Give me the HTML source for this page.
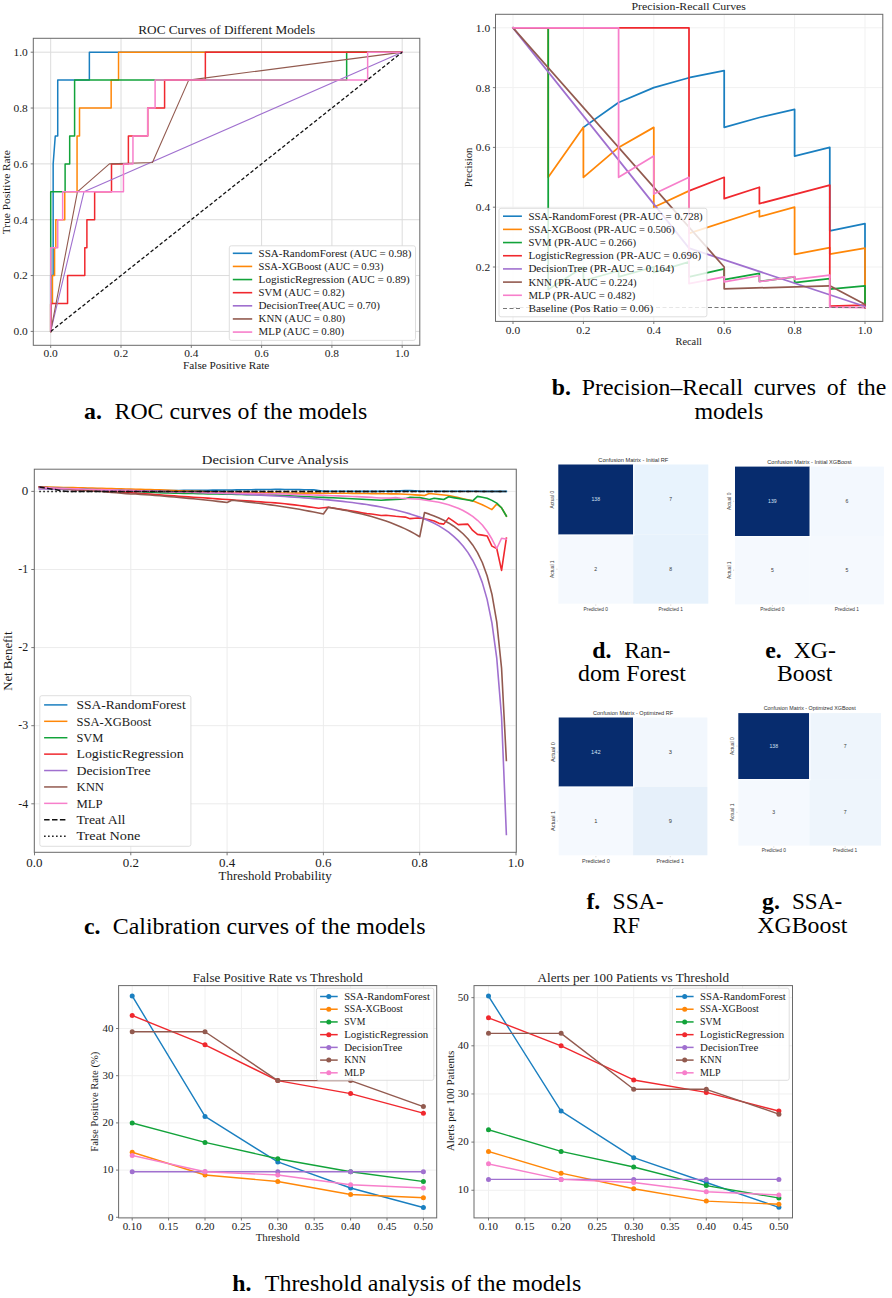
<!DOCTYPE html>
<html><head><meta charset="utf-8"><title>Model evaluation figure</title>
<style>
html,body{margin:0;padding:0;background:#fff;}
body{width:892px;height:1298px;overflow:hidden;}
svg{display:block;font-family:"Liberation Serif",serif;}
</style></head><body>
<svg width="892" height="1298" viewBox="0 0 892 1298" fill="#1a1a1a">
<line x1="50.7" y1="38.3" x2="50.7" y2="345.3" stroke="#dcdcdc" stroke-width="1"/>
<line x1="33.3" y1="331.4" x2="419.8" y2="331.4" stroke="#dcdcdc" stroke-width="1"/>
<line x1="121" y1="38.3" x2="121" y2="345.3" stroke="#dcdcdc" stroke-width="1"/>
<line x1="33.3" y1="275.56" x2="419.8" y2="275.56" stroke="#dcdcdc" stroke-width="1"/>
<line x1="191.3" y1="38.3" x2="191.3" y2="345.3" stroke="#dcdcdc" stroke-width="1"/>
<line x1="33.3" y1="219.72" x2="419.8" y2="219.72" stroke="#dcdcdc" stroke-width="1"/>
<line x1="261.6" y1="38.3" x2="261.6" y2="345.3" stroke="#dcdcdc" stroke-width="1"/>
<line x1="33.3" y1="163.88" x2="419.8" y2="163.88" stroke="#dcdcdc" stroke-width="1"/>
<line x1="331.9" y1="38.3" x2="331.9" y2="345.3" stroke="#dcdcdc" stroke-width="1"/>
<line x1="33.3" y1="108.04" x2="419.8" y2="108.04" stroke="#dcdcdc" stroke-width="1"/>
<line x1="402.2" y1="38.3" x2="402.2" y2="345.3" stroke="#dcdcdc" stroke-width="1"/>
<line x1="33.3" y1="52.2" x2="419.8" y2="52.2" stroke="#dcdcdc" stroke-width="1"/>
<polyline points="50.7,331.4 50.7,275.56 53.16,275.56 53.16,163.88 55.27,135.96 57.73,135.96 57.73,80.12 89.37,80.12 89.37,52.2 402.2,52.2" fill="none" stroke="#1a7fc0" stroke-width="1.5" stroke-linejoin="round" stroke-linecap="square"/>
<polyline points="50.7,331.4 50.7,303.48 52.46,303.48 52.46,275.56 54.57,275.56 54.57,247.64 55.8,247.64 55.8,219.72 64.76,219.72 64.76,191.8 77.06,191.8 77.06,135.96 79.52,135.96 79.52,108.04 111.16,108.04 111.16,80.12 118.54,80.12 118.54,52.2 402.2,52.2" fill="none" stroke="#ff8708" stroke-width="1.5" stroke-linejoin="round" stroke-linecap="square"/>
<polyline points="50.7,331.4 50.7,191.8 65.11,191.8 65.11,163.88 69.68,163.88 69.68,135.96 74.6,135.96 74.6,80.12 346.66,80.12 346.66,52.2 402.2,52.2" fill="none" stroke="#12a33a" stroke-width="1.5" stroke-linejoin="round" stroke-linecap="square"/>
<polyline points="50.7,331.4 50.7,303.48 67.57,303.48 67.57,275.56 84.8,275.56 84.8,247.64 86.9,247.64 86.9,219.72 94.64,219.72 94.64,191.8 111.51,191.8 111.51,163.88 128.38,163.88 128.38,135.96 147.71,135.96 147.71,108.04 164.59,108.04 164.59,80.12 205.36,80.12 205.36,52.2 402.2,52.2" fill="none" stroke="#f0282e" stroke-width="1.5" stroke-linejoin="round" stroke-linecap="square"/>
<polyline points="50.7,331.4 83.95,191.8 402.2,52.2" fill="none" stroke="#a070cf" stroke-width="1.1" stroke-linejoin="round" stroke-linecap="square"/>
<polyline points="50.7,331.4 77.41,191.8 109.4,163.88 152.46,162.48 188.7,80.12 402.2,52.2" fill="none" stroke="#925a4f" stroke-width="1.1" stroke-linejoin="round" stroke-linecap="square"/>
<polyline points="50.7,331.4 50.7,247.64 57.73,247.64 57.73,219.72 62.65,219.72 62.65,191.8 123.46,191.8 123.46,163.88 132.95,163.88 132.95,135.96 147.71,135.96 147.71,108.04 155.1,108.04 155.1,80.12 367.65,80.12 367.65,52.2 402.2,52.2" fill="none" stroke="#f77fcb" stroke-width="1.5" stroke-linejoin="round" stroke-linecap="square"/>
<line x1="50.7" y1="331.4" x2="402.2" y2="52.2" stroke="#111" stroke-width="1.3" stroke-dasharray="3.6,2.2"/>
<rect x="33.3" y="38.3" width="386.5" height="307" fill="none" stroke="#6a6a6a" stroke-width="1"/>
<line x1="50.7" y1="345.3" x2="50.7" y2="347.9" stroke="#6a6a6a" stroke-width="0.9"/>
<line x1="30.7" y1="331.4" x2="33.3" y2="331.4" stroke="#6a6a6a" stroke-width="0.9"/>
<text x="50.7" y="357.3" font-size="10.08" text-anchor="middle" textLength="14.31" lengthAdjust="spacingAndGlyphs">0.0</text>
<text x="27.8" y="335.3" font-size="10.08" text-anchor="end" textLength="14.31" lengthAdjust="spacingAndGlyphs">0.0</text>
<line x1="121" y1="345.3" x2="121" y2="347.9" stroke="#6a6a6a" stroke-width="0.9"/>
<line x1="30.7" y1="275.56" x2="33.3" y2="275.56" stroke="#6a6a6a" stroke-width="0.9"/>
<text x="121" y="357.3" font-size="10.08" text-anchor="middle" textLength="14.31" lengthAdjust="spacingAndGlyphs">0.2</text>
<text x="27.8" y="279.46" font-size="10.08" text-anchor="end" textLength="14.31" lengthAdjust="spacingAndGlyphs">0.2</text>
<line x1="191.3" y1="345.3" x2="191.3" y2="347.9" stroke="#6a6a6a" stroke-width="0.9"/>
<line x1="30.7" y1="219.72" x2="33.3" y2="219.72" stroke="#6a6a6a" stroke-width="0.9"/>
<text x="191.3" y="357.3" font-size="10.08" text-anchor="middle" textLength="14.31" lengthAdjust="spacingAndGlyphs">0.4</text>
<text x="27.8" y="223.62" font-size="10.08" text-anchor="end" textLength="14.31" lengthAdjust="spacingAndGlyphs">0.4</text>
<line x1="261.6" y1="345.3" x2="261.6" y2="347.9" stroke="#6a6a6a" stroke-width="0.9"/>
<line x1="30.7" y1="163.88" x2="33.3" y2="163.88" stroke="#6a6a6a" stroke-width="0.9"/>
<text x="261.6" y="357.3" font-size="10.08" text-anchor="middle" textLength="14.31" lengthAdjust="spacingAndGlyphs">0.6</text>
<text x="27.8" y="167.78" font-size="10.08" text-anchor="end" textLength="14.31" lengthAdjust="spacingAndGlyphs">0.6</text>
<line x1="331.9" y1="345.3" x2="331.9" y2="347.9" stroke="#6a6a6a" stroke-width="0.9"/>
<line x1="30.7" y1="108.04" x2="33.3" y2="108.04" stroke="#6a6a6a" stroke-width="0.9"/>
<text x="331.9" y="357.3" font-size="10.08" text-anchor="middle" textLength="14.31" lengthAdjust="spacingAndGlyphs">0.8</text>
<text x="27.8" y="111.94" font-size="10.08" text-anchor="end" textLength="14.31" lengthAdjust="spacingAndGlyphs">0.8</text>
<line x1="402.2" y1="345.3" x2="402.2" y2="347.9" stroke="#6a6a6a" stroke-width="0.9"/>
<line x1="30.7" y1="52.2" x2="33.3" y2="52.2" stroke="#6a6a6a" stroke-width="0.9"/>
<text x="402.2" y="357.3" font-size="10.08" text-anchor="middle" textLength="14.31" lengthAdjust="spacingAndGlyphs">1.0</text>
<text x="27.8" y="56.1" font-size="10.08" text-anchor="end" textLength="14.31" lengthAdjust="spacingAndGlyphs">1.0</text>
<text x="226.7" y="34.2" font-size="12.1" text-anchor="middle" textLength="176.79" lengthAdjust="spacingAndGlyphs">ROC Curves of Different Models</text>
<text x="226.2" y="368.5" font-size="10.08" text-anchor="middle" textLength="86.35" lengthAdjust="spacingAndGlyphs">False Positive Rate</text>
<text x="10" y="192.2" font-size="10.08" text-anchor="middle" textLength="83.96" lengthAdjust="spacingAndGlyphs" transform="rotate(-90 10 192.2)">True Positive Rate</text>
<rect x="229.3" y="245.8" width="186.2" height="94.6" fill="#fff" stroke="#d6d6d6" stroke-width="0.8" rx="2"/>
<line x1="232.8" y1="253.3" x2="252.2" y2="253.3" stroke="#1a7fc0" stroke-width="1.6"/>
<text x="258.6" y="256.7" font-size="10.08" textLength="152.77" lengthAdjust="spacingAndGlyphs">SSA-RandomForest (AUC = 0.98)</text>
<line x1="232.8" y1="266.43" x2="252.2" y2="266.43" stroke="#ff8708" stroke-width="1.6"/>
<text x="258.6" y="269.83" font-size="10.08" textLength="124.83" lengthAdjust="spacingAndGlyphs">SSA-XGBoost (AUC = 0.93)</text>
<line x1="232.8" y1="279.56" x2="252.2" y2="279.56" stroke="#12a33a" stroke-width="1.6"/>
<text x="258.6" y="282.96" font-size="10.08" textLength="151.17" lengthAdjust="spacingAndGlyphs">LogisticRegression (AUC = 0.89)</text>
<line x1="232.8" y1="292.69" x2="252.2" y2="292.69" stroke="#f0282e" stroke-width="1.6"/>
<text x="258.6" y="296.09" font-size="10.08" textLength="86.04" lengthAdjust="spacingAndGlyphs">SVM (AUC = 0.82)</text>
<line x1="232.8" y1="305.82" x2="252.2" y2="305.82" stroke="#a070cf" stroke-width="1.6"/>
<text x="258.6" y="309.22" font-size="10.08" textLength="121.43" lengthAdjust="spacingAndGlyphs">DecisionTree(AUC = 0.70)</text>
<line x1="232.8" y1="318.95" x2="252.2" y2="318.95" stroke="#925a4f" stroke-width="1.6"/>
<text x="258.6" y="322.35" font-size="10.08" textLength="86.63" lengthAdjust="spacingAndGlyphs">KNN (AUC = 0.80)</text>
<line x1="232.8" y1="332.08" x2="252.2" y2="332.08" stroke="#f77fcb" stroke-width="1.6"/>
<text x="258.6" y="335.48" font-size="10.08" textLength="85.41" lengthAdjust="spacingAndGlyphs">MLP (AUC = 0.80)</text>
<line x1="513" y1="14.3" x2="513" y2="321.4" stroke="#f1f1f1" stroke-width="1"/>
<line x1="583.4" y1="14.3" x2="583.4" y2="321.4" stroke="#f1f1f1" stroke-width="1"/>
<line x1="653.8" y1="14.3" x2="653.8" y2="321.4" stroke="#f1f1f1" stroke-width="1"/>
<line x1="724.2" y1="14.3" x2="724.2" y2="321.4" stroke="#f1f1f1" stroke-width="1"/>
<line x1="794.6" y1="14.3" x2="794.6" y2="321.4" stroke="#f1f1f1" stroke-width="1"/>
<line x1="865" y1="14.3" x2="865" y2="321.4" stroke="#f1f1f1" stroke-width="1"/>
<line x1="495.5" y1="267" x2="882.8" y2="267" stroke="#f1f1f1" stroke-width="1"/>
<line x1="495.5" y1="207.2" x2="882.8" y2="207.2" stroke="#f1f1f1" stroke-width="1"/>
<line x1="495.5" y1="147.4" x2="882.8" y2="147.4" stroke="#f1f1f1" stroke-width="1"/>
<line x1="495.5" y1="87.6" x2="882.8" y2="87.6" stroke="#f1f1f1" stroke-width="1"/>
<line x1="495.5" y1="27.8" x2="882.8" y2="27.8" stroke="#f1f1f1" stroke-width="1"/>
<polyline points="583.4,127.37 618.6,102.55 653.8,87.6 689,77.73 724.2,70.56 724.2,127.37 759.4,117.5 794.6,109.43 794.6,156.07 829.8,147.4 829.8,230.82 865,223.65 865,307.51" fill="none" stroke="#1a7fc0" stroke-width="1.75" stroke-linejoin="round" stroke-linecap="square"/>
<polyline points="513,27.8 548.2,27.8 548.2,177.3 583.4,127.37 583.4,177.3 618.6,147.4 653.8,127.37 653.8,207.2 689,190.9 689,233.36 759.4,210.49 759.4,216.77 794.6,207.2 794.6,254.32 829.8,247.65 829.8,254.08 865,248.1 865,307.51" fill="none" stroke="#ff8708" stroke-width="1.75" stroke-linejoin="round" stroke-linecap="square"/>
<polyline points="513,27.8 548.2,27.8 548.2,289.43 583.4,267 583.4,280.75 618.6,270.74 618.6,276.87 653.8,267 653.8,272.38 689,261.92 689,276.87 724.2,268.79 724.2,279.56 759.4,273.28 759.4,281.35 794.6,276.87 794.6,282.7 829.8,278.66 829.8,289.13 865,285.84 865,307.51" fill="none" stroke="#12a33a" stroke-width="1.75" stroke-linejoin="round" stroke-linecap="square"/>
<polyline points="513,27.8 689,27.8 689,190.9 724.2,177.3 724.2,198.65 759.4,187.26 759.4,203.67 829.8,185.16 829.8,306.17 865,305.12 865,307.51" fill="none" stroke="#f0282e" stroke-width="1.75" stroke-linejoin="round" stroke-linecap="square"/>
<polyline points="513,27.8 689,248.16 865,306.47" fill="none" stroke="#a070cf" stroke-width="1.75" stroke-linejoin="round" stroke-linecap="square"/>
<polyline points="513,27.8 724.2,267 724.2,288.83 829.8,285.84 865,304.38" fill="none" stroke="#925a4f" stroke-width="1.75" stroke-linejoin="round" stroke-linecap="square"/>
<polyline points="513,27.8 618.6,27.8 618.6,177.3 653.8,156.07 653.8,194.04 689,177.3 689,283.59 724.2,276.96 724.2,281.95 759.4,275.76 759.4,281.65 794.6,276.57 794.6,279.26 829.8,275.07 829.8,307.07 865,307.51" fill="none" stroke="#f77fcb" stroke-width="1.75" stroke-linejoin="round" stroke-linecap="square"/>
<line x1="513" y1="307.51" x2="865" y2="307.51" stroke="#777" stroke-width="1.1" stroke-dasharray="4,2.5"/>
<rect x="499" y="208.3" width="207.9" height="108.5" fill="#fff" stroke="#d6d6d6" stroke-width="0.8" rx="2" fill-opacity="0.82"/>
<line x1="503" y1="216.2" x2="521.9" y2="216.2" stroke="#1a7fc0" stroke-width="1.6"/>
<text x="528.4" y="219.6" font-size="10.08" textLength="174.37" lengthAdjust="spacingAndGlyphs">SSA-RandomForest (PR-AUC = 0.728)</text>
<line x1="503" y1="229.38" x2="521.9" y2="229.38" stroke="#ff8708" stroke-width="1.6"/>
<text x="528.4" y="232.78" font-size="10.08" textLength="146.43" lengthAdjust="spacingAndGlyphs">SSA-XGBoost (PR-AUC = 0.506)</text>
<line x1="503" y1="242.56" x2="521.9" y2="242.56" stroke="#12a33a" stroke-width="1.6"/>
<text x="528.4" y="245.96" font-size="10.08" textLength="107.64" lengthAdjust="spacingAndGlyphs">SVM (PR-AUC = 0.266)</text>
<line x1="503" y1="255.74" x2="521.9" y2="255.74" stroke="#f0282e" stroke-width="1.6"/>
<text x="528.4" y="259.14" font-size="10.08" textLength="172.77" lengthAdjust="spacingAndGlyphs">LogisticRegression (PR-AUC = 0.696)</text>
<line x1="503" y1="268.92" x2="521.9" y2="268.92" stroke="#a070cf" stroke-width="1.6"/>
<text x="528.4" y="272.32" font-size="10.08" textLength="145.89" lengthAdjust="spacingAndGlyphs">DecisionTree (PR-AUC = 0.164)</text>
<line x1="503" y1="282.1" x2="521.9" y2="282.1" stroke="#925a4f" stroke-width="1.6"/>
<text x="528.4" y="285.5" font-size="10.08" textLength="108.23" lengthAdjust="spacingAndGlyphs">KNN (PR-AUC = 0.224)</text>
<line x1="503" y1="295.28" x2="521.9" y2="295.28" stroke="#f77fcb" stroke-width="1.6"/>
<text x="528.4" y="298.68" font-size="10.08" textLength="107.01" lengthAdjust="spacingAndGlyphs">MLP (PR-AUC = 0.482)</text>
<line x1="503" y1="308.46" x2="521.9" y2="308.46" stroke="#777" stroke-width="1.1" stroke-dasharray="4,2.5"/>
<text x="528.4" y="311.86" font-size="10.08" textLength="124.84" lengthAdjust="spacingAndGlyphs">Baseline (Pos Ratio = 0.06)</text>
<rect x="495.5" y="14.3" width="387.3" height="307.1" fill="none" stroke="#6a6a6a" stroke-width="1"/>
<line x1="513" y1="321.4" x2="513" y2="324" stroke="#6a6a6a" stroke-width="0.9"/>
<text x="513" y="333.6" font-size="10.08" text-anchor="middle" textLength="14.31" lengthAdjust="spacingAndGlyphs">0.0</text>
<line x1="583.4" y1="321.4" x2="583.4" y2="324" stroke="#6a6a6a" stroke-width="0.9"/>
<text x="583.4" y="333.6" font-size="10.08" text-anchor="middle" textLength="14.31" lengthAdjust="spacingAndGlyphs">0.2</text>
<line x1="653.8" y1="321.4" x2="653.8" y2="324" stroke="#6a6a6a" stroke-width="0.9"/>
<text x="653.8" y="333.6" font-size="10.08" text-anchor="middle" textLength="14.31" lengthAdjust="spacingAndGlyphs">0.4</text>
<line x1="724.2" y1="321.4" x2="724.2" y2="324" stroke="#6a6a6a" stroke-width="0.9"/>
<text x="724.2" y="333.6" font-size="10.08" text-anchor="middle" textLength="14.31" lengthAdjust="spacingAndGlyphs">0.6</text>
<line x1="794.6" y1="321.4" x2="794.6" y2="324" stroke="#6a6a6a" stroke-width="0.9"/>
<text x="794.6" y="333.6" font-size="10.08" text-anchor="middle" textLength="14.31" lengthAdjust="spacingAndGlyphs">0.8</text>
<line x1="865" y1="321.4" x2="865" y2="324" stroke="#6a6a6a" stroke-width="0.9"/>
<text x="865" y="333.6" font-size="10.08" text-anchor="middle" textLength="14.31" lengthAdjust="spacingAndGlyphs">1.0</text>
<line x1="492.9" y1="267" x2="495.5" y2="267" stroke="#6a6a6a" stroke-width="0.9"/>
<text x="490.2" y="270.9" font-size="10.08" text-anchor="end" textLength="14.31" lengthAdjust="spacingAndGlyphs">0.2</text>
<line x1="492.9" y1="207.2" x2="495.5" y2="207.2" stroke="#6a6a6a" stroke-width="0.9"/>
<text x="490.2" y="211.1" font-size="10.08" text-anchor="end" textLength="14.31" lengthAdjust="spacingAndGlyphs">0.4</text>
<line x1="492.9" y1="147.4" x2="495.5" y2="147.4" stroke="#6a6a6a" stroke-width="0.9"/>
<text x="490.2" y="151.3" font-size="10.08" text-anchor="end" textLength="14.31" lengthAdjust="spacingAndGlyphs">0.6</text>
<line x1="492.9" y1="87.6" x2="495.5" y2="87.6" stroke="#6a6a6a" stroke-width="0.9"/>
<text x="490.2" y="91.5" font-size="10.08" text-anchor="end" textLength="14.31" lengthAdjust="spacingAndGlyphs">0.8</text>
<line x1="492.9" y1="27.8" x2="495.5" y2="27.8" stroke="#6a6a6a" stroke-width="0.9"/>
<text x="490.2" y="31.7" font-size="10.08" text-anchor="end" textLength="14.31" lengthAdjust="spacingAndGlyphs">1.0</text>
<text x="688.7" y="10" font-size="10.64" text-anchor="middle" textLength="114.53" lengthAdjust="spacingAndGlyphs">Precision-Recall Curves</text>
<text x="688.7" y="344.8" font-size="9.41" text-anchor="middle" textLength="26.38" lengthAdjust="spacingAndGlyphs">Recall</text>
<text x="471.5" y="167.5" font-size="9.41" text-anchor="middle" textLength="39.5" lengthAdjust="spacingAndGlyphs" transform="rotate(-90 471.5 167.5)">Precision</text>
<line x1="34.5" y1="469.2" x2="34.5" y2="852.3" stroke="#ececec" stroke-width="1"/>
<line x1="130.8" y1="469.2" x2="130.8" y2="852.3" stroke="#ececec" stroke-width="1"/>
<line x1="227.1" y1="469.2" x2="227.1" y2="852.3" stroke="#ececec" stroke-width="1"/>
<line x1="323.4" y1="469.2" x2="323.4" y2="852.3" stroke="#ececec" stroke-width="1"/>
<line x1="419.7" y1="469.2" x2="419.7" y2="852.3" stroke="#ececec" stroke-width="1"/>
<line x1="516" y1="469.2" x2="516" y2="852.3" stroke="#ececec" stroke-width="1"/>
<line x1="34.3" y1="491.4" x2="516.3" y2="491.4" stroke="#ececec" stroke-width="1"/>
<line x1="34.3" y1="569.5" x2="516.3" y2="569.5" stroke="#ececec" stroke-width="1"/>
<line x1="34.3" y1="647.6" x2="516.3" y2="647.6" stroke="#ececec" stroke-width="1"/>
<line x1="34.3" y1="725.7" x2="516.3" y2="725.7" stroke="#ececec" stroke-width="1"/>
<line x1="34.3" y1="803.8" x2="516.3" y2="803.8" stroke="#ececec" stroke-width="1"/>
<polyline points="39.31,487.1 44.13,487.28 48.95,487.45 53.76,487.63 58.58,487.8 63.39,487.97 68.21,488.15 73.02,488.32 77.84,488.49 82.65,488.67 87.47,488.81 92.28,488.96 97.09,489.11 101.91,489.26 106.72,489.41 111.54,489.56 116.36,489.71 121.17,489.85 125.98,490 130.8,490.15 135.62,490.23 140.43,490.31 145.25,490.38 150.06,490.46 154.88,490.54 159.69,490.62 164.5,490.58 169.32,490.54 174.13,490.5 178.95,490.46 183.76,490.42 188.58,490.37 193.4,490.32 198.21,490.28 203.02,490.23 207.84,490.18 212.66,490.13 217.47,490.09 222.28,490.04 227.1,489.99 231.91,489.93 236.73,489.87 241.54,489.81 246.36,489.74 251.18,489.68 255.99,489.63 260.8,489.58 265.62,489.53 270.44,489.47 275.25,489.42 280.06,489.37 284.88,489.43 289.7,489.49 294.51,489.55 299.33,489.6 304.14,489.68 308.95,489.76 313.77,489.84 318.58,490.5 323.4,491.17 328.21,491.19 333.03,491.21 337.85,491.24 342.66,491.26 347.48,491.28 352.29,491.31 357.11,491.33 361.92,491.35 366.73,491.38 371.55,491.4 376.37,491.34 381.18,491.28 386,491.21 390.81,491.15 395.62,491.09 400.44,490.88 405.25,490.67 410.07,490.46 414.88,490.81 419.7,491.17 424.52,491.18 429.33,491.19 434.14,491.2 438.96,491.22 443.77,491.23 448.59,491.24 453.4,491.26 458.22,491.27 463.04,491.28 467.85,491.3 472.67,491.31 477.48,491.32 482.3,491.33 487.11,491.35 491.92,491.36 496.74,491.37 501.56,491.39 506.37,491.4" fill="none" stroke="#1a7fc0" stroke-width="1.6" stroke-linejoin="round" stroke-linecap="square"/>
<polyline points="39.31,486.87 44.13,486.98 48.95,487.1 53.76,487.21 58.58,487.32 63.39,487.43 68.21,487.55 73.02,487.66 77.84,487.77 82.65,487.89 87.47,488 92.28,488.12 97.09,488.24 101.91,488.35 106.72,488.47 111.54,488.59 116.36,488.71 121.17,488.82 125.98,488.94 130.8,489.06 135.62,489.19 140.43,489.32 145.25,489.45 150.06,489.58 154.88,489.71 159.69,489.84 164.5,490.07 169.32,490.31 174.13,490.54 178.95,490.78 183.76,490.93 188.58,491.09 193.4,491.24 198.21,491.4 203.02,491.56 207.84,491.71 212.66,491.87 217.47,492.02 222.28,492.18 227.1,492.34 231.91,492.4 236.73,492.46 241.54,492.53 246.36,492.59 251.18,492.66 255.99,492.72 260.8,492.78 265.62,492.85 270.44,492.91 275.25,492.98 280.06,493.04 284.88,493.06 289.7,493.07 294.51,493.09 299.33,493.11 304.14,493.12 308.95,493.14 313.77,493.16 318.58,493.17 323.4,493.19 328.21,493.21 333.03,493.22 337.85,493.24 342.66,493.26 347.48,493.27 352.29,493.34 357.11,493.4 361.92,493.47 366.73,493.53 371.55,493.59 376.37,493.66 381.18,493.72 386,493.79 390.81,493.85 395.62,493.91 400.44,493.98 405.25,494.27 410.07,494.56 414.88,494.86 419.7,495.15 424.52,495.46 429.33,493.43 434.14,493.94 438.96,494.45 443.77,494.95 448.59,495.46 453.4,496.55 458.22,497.65 463.04,498.72 467.85,499.78 472.67,500.85 477.48,502.76 482.3,504.68 487.11,507.14 491.92,509.6 496.74,503.97 501.56,507.8 506.37,516.08" fill="none" stroke="#ff8708" stroke-width="1.6" stroke-linejoin="round" stroke-linecap="square"/>
<polyline points="39.31,487.5 44.13,487.67 48.95,487.84 53.76,488.02 58.58,488.19 63.39,488.36 68.21,488.54 73.02,488.71 77.84,488.88 82.65,489.06 87.47,489.25 92.28,489.45 97.09,489.64 101.91,489.84 106.72,490.03 111.54,490.23 116.36,490.42 121.17,490.62 125.98,490.81 130.8,491.01 135.62,491.31 140.43,491.61 145.25,491.91 150.06,492.21 154.88,492.51 159.69,492.81 164.5,492.91 169.32,493.01 174.13,493.12 178.95,493.22 183.76,493.33 188.58,493.43 193.4,493.53 198.21,493.64 203.02,493.74 207.84,493.84 212.66,493.93 217.47,494.02 222.28,494.12 227.1,494.21 231.91,494.31 236.73,494.4 241.54,494.49 246.36,494.59 251.18,494.68 255.99,494.77 260.8,494.86 265.62,494.95 270.44,495.04 275.25,495.14 280.06,495.23 284.88,495.49 289.7,495.75 294.51,496.01 299.33,496.27 304.14,496.53 308.95,496.79 313.77,496.99 318.58,497.2 323.4,497.4 328.21,497.61 333.03,497.81 337.85,498.02 342.66,498.22 347.48,498.43 352.29,498.69 357.11,498.94 361.92,499.2 366.73,499.46 371.55,499.71 376.37,499.97 381.18,500.23 386,499.91 390.81,499.6 395.62,499.37 400.44,499.13 405.25,498.66 410.07,497.26 414.88,497.45 419.7,497.65 424.52,498.59 429.33,499.52 434.14,498.19 438.96,498.86 443.77,499.52 448.59,496.79 453.4,497.6 458.22,498.41 463.04,499.23 467.85,500.04 472.67,500.85 477.48,496.4 482.3,497.3 487.11,498.19 491.92,500.38 496.74,503.11 501.56,507.8 506.37,516.08" fill="none" stroke="#12a33a" stroke-width="1.6" stroke-linejoin="round" stroke-linecap="square"/>
<polyline points="39.31,487.1 44.13,487.5 48.95,487.89 53.76,488.28 58.58,488.67 63.39,488.98 68.21,489.29 73.02,489.6 77.84,489.92 82.65,490.23 87.47,490.49 92.28,490.74 97.09,491 101.91,491.26 106.72,491.52 111.54,491.77 116.36,492.03 121.17,492.29 125.98,492.55 130.8,492.81 135.62,493.14 140.43,493.48 145.25,493.82 150.06,494.16 154.88,494.5 159.69,494.84 164.5,495.19 169.32,495.54 174.13,495.89 178.95,496.24 183.76,496.55 188.58,496.87 193.4,497.18 198.21,497.49 203.02,497.8 207.84,498.15 212.66,498.49 217.47,498.84 222.28,499.18 227.1,499.52 231.91,499.85 236.73,500.18 241.54,500.51 246.36,500.83 251.18,501.16 255.99,501.51 260.8,501.87 265.62,502.22 270.44,502.57 275.25,502.92 280.06,503.27 284.88,503.82 289.7,504.36 294.51,504.91 299.33,505.46 304.14,506.16 308.95,506.86 313.77,507.57 318.58,508.27 323.4,507.8 328.21,507.33 333.03,508.04 337.85,508.74 342.66,509.52 347.48,510.3 352.29,511.08 357.11,511.86 361.92,512.76 366.73,513.66 371.55,514.05 376.37,514.79 381.18,515.53 386,515.22 390.81,515.77 395.62,516.31 400.44,516.7 405.25,517.09 410.07,518.66 414.88,518.27 419.7,517.88 424.52,518.66 429.33,519.87 434.14,521.08 438.96,523.34 443.77,524.12 448.59,517.88 453.4,521.08 458.22,524.59 463.04,524.36 467.85,524.12 472.67,530.45 477.48,534.36 482.3,535.14 487.11,535.92 491.92,546.15 496.74,548.49 501.56,570.44 506.37,538.26" fill="none" stroke="#f0282e" stroke-width="1.6" stroke-linejoin="round" stroke-linecap="square"/>
<polyline points="39.31,488.95 44.13,489.02 48.95,489.1 53.76,489.17 58.58,489.25 63.39,489.33 68.21,489.41 73.02,489.49 77.84,489.58 82.65,489.66 87.47,489.75 92.28,489.84 97.09,489.93 101.91,490.03 106.72,490.13 111.54,490.22 116.36,490.33 121.17,490.43 125.98,490.54 130.8,490.64 135.62,490.76 140.43,490.87 145.25,490.99 150.06,491.11 154.88,491.23 159.69,491.36 164.5,491.49 169.32,491.62 174.13,491.76 178.95,491.9 183.76,492.05 188.58,492.2 193.4,492.36 198.21,492.51 203.02,492.68 207.84,492.85 212.66,493.02 217.47,493.2 222.28,493.39 227.1,493.58 231.91,493.78 236.73,493.99 241.54,494.2 246.36,494.42 251.18,494.65 255.99,494.89 260.8,495.14 265.62,495.39 270.44,495.66 275.25,495.93 280.06,496.22 284.88,496.52 289.7,496.84 294.51,497.16 299.33,497.5 304.14,497.86 308.95,498.23 313.77,498.62 318.58,499.03 323.4,499.46 328.21,499.91 333.03,500.39 337.85,500.89 342.66,501.42 347.48,501.98 352.29,502.57 357.11,503.2 361.92,503.87 366.73,504.58 371.55,505.34 376.37,506.15 381.18,507.02 386,507.95 390.81,508.96 395.62,510.04 400.44,511.22 405.25,512.5 410.07,513.89 414.88,515.42 419.7,517.1 424.52,518.95 429.33,521.02 434.14,523.32 438.96,525.92 443.77,528.85 448.59,532.21 453.4,536.09 458.22,540.61 463.04,545.96 467.85,552.37 472.67,560.21 477.48,570 482.3,582.6 487.11,599.4 491.92,622.91 496.74,658.18 501.56,716.97 506.37,834.54" fill="none" stroke="#a070cf" stroke-width="1.6" stroke-linejoin="round" stroke-linecap="square"/>
<polyline points="39.31,487.16 44.13,487.45 48.95,487.75 53.76,488.06 58.58,488.38 63.39,488.7 68.21,489.03 73.02,489.36 77.84,489.71 82.65,490.06 87.47,490.41 92.28,490.78 97.09,491.16 101.91,491.54 106.72,491.93 111.54,492.34 116.36,492.75 121.17,493.17 125.98,493.6 130.8,494.05 135.62,494 140.43,494.35 145.25,494.7 150.06,495.06 154.88,495.43 159.69,495.81 164.5,496.2 169.32,496.61 174.13,497.02 178.95,497.45 183.76,497.88 188.58,498.34 193.4,498.8 198.21,499.28 203.02,499.77 207.84,500.28 212.66,500.81 217.47,501.35 222.28,501.91 227.1,502.49 231.91,500.28 236.73,500.78 241.54,501.3 246.36,501.84 251.18,502.39 255.99,502.97 260.8,503.57 265.62,504.19 270.44,504.84 275.25,505.51 280.06,506.21 284.88,506.94 289.7,507.7 294.51,508.49 299.33,509.32 304.14,510.18 308.95,511.09 313.77,512.03 318.58,513.03 323.4,514.07 328.21,507.29 333.03,508.11 337.85,508.97 342.66,509.88 347.48,510.84 352.29,511.85 357.11,512.93 361.92,514.07 366.73,515.29 371.55,516.59 376.37,517.98 381.18,519.47 386,521.07 390.81,522.8 395.62,524.66 400.44,526.67 405.25,528.86 410.07,531.25 414.88,533.87 419.7,536.75 424.52,512.51 429.33,514.13 434.14,515.94 438.96,517.98 443.77,520.29 448.59,522.93 453.4,525.97 458.22,529.53 463.04,533.73 467.85,538.76 472.67,544.92 477.48,552.62 482.3,562.52 487.11,575.71 491.92,594.19 496.74,621.9 501.56,668.09 506.37,760.47" fill="none" stroke="#925a4f" stroke-width="1.6" stroke-linejoin="round" stroke-linecap="square"/>
<polyline points="39.31,487.5 44.13,487.67 48.95,487.84 53.76,488.02 58.58,488.19 63.39,488.36 68.21,488.54 73.02,488.71 77.84,488.88 82.65,489.06 87.47,489.2 92.28,489.34 97.09,489.48 101.91,489.62 106.72,489.76 111.54,489.9 116.36,490.04 121.17,490.18 125.98,490.32 130.8,490.46 135.62,490.62 140.43,490.78 145.25,490.93 150.06,491.09 154.88,491.24 159.69,491.4 164.5,491.56 169.32,491.71 174.13,491.87 178.95,492.02 183.76,492.12 188.58,492.21 193.4,492.31 198.21,492.4 203.02,492.49 207.84,492.59 212.66,492.68 217.47,492.77 222.28,492.87 227.1,492.96 231.91,493.05 236.73,493.13 241.54,493.22 246.36,493.3 251.18,493.39 255.99,493.47 260.8,493.56 265.62,493.64 270.44,493.73 275.25,493.81 280.06,493.9 284.88,494.06 289.7,494.21 294.51,494.37 299.33,494.52 304.14,494.68 308.95,494.84 313.77,494.99 318.58,495.15 323.4,495.3 328.21,495.5 333.03,495.7 337.85,495.89 342.66,496.09 347.48,496.28 352.29,496.48 357.11,496.67 361.92,496.87 366.73,497.14 371.55,497.41 376.37,497.69 381.18,497.96 386,498.04 390.81,498.12 395.62,497.49 400.44,498.19 405.25,498.45 410.07,498.7 414.88,498.96 419.7,499.21 424.52,499.95 429.33,500.69 434.14,501.44 438.96,502.18 443.77,503.43 448.59,504.68 453.4,506.43 458.22,508.19 463.04,510.53 467.85,513.27 472.67,516.39 477.48,520.3 482.3,524.98 487.11,531.23 491.92,539.04 496.74,548.49 501.56,538.26 506.37,539.04" fill="none" stroke="#f77fcb" stroke-width="1.6" stroke-linejoin="round" stroke-linecap="square"/>
<polyline points="39.31,487.1 44.13,487.85 48.95,488.62 53.76,489.41 58.58,490.21 63.39,491.02 68.21,491.4 73.02,491.4 77.84,491.4 82.65,491.4 87.47,491.4 92.28,491.4 97.09,491.4 101.91,491.4 106.72,491.4 111.54,491.4 116.36,491.4 121.17,491.4 125.98,491.4 130.8,491.4 135.62,491.4 140.43,491.4 145.25,491.4 150.06,491.4 154.88,491.4 159.69,491.4 164.5,491.4 169.32,491.4 174.13,491.4 178.95,491.4 183.76,491.4 188.58,491.4 193.4,491.4 198.21,491.4 203.02,491.4 207.84,491.4 212.66,491.4 217.47,491.4 222.28,491.4 227.1,491.4 231.91,491.4 236.73,491.4 241.54,491.4 246.36,491.4 251.18,491.4 255.99,491.4 260.8,491.4 265.62,491.4 270.44,491.4 275.25,491.4 280.06,491.4 284.88,491.4 289.7,491.4 294.51,491.4 299.33,491.4 304.14,491.4 308.95,491.4 313.77,491.4 318.58,491.4 323.4,491.4 328.21,491.4 333.03,491.4 337.85,491.4 342.66,491.4 347.48,491.4 352.29,491.4 357.11,491.4 361.92,491.4 366.73,491.4 371.55,491.4 376.37,491.4 381.18,491.4 386,491.4 390.81,491.4 395.62,491.4 400.44,491.4 405.25,491.4 410.07,491.4 414.88,491.4 419.7,491.4 424.52,491.4 429.33,491.4 434.14,491.4 438.96,491.4 443.77,491.4 448.59,491.4 453.4,491.4 458.22,491.4 463.04,491.4 467.85,491.4 472.67,491.4 477.48,491.4 482.3,491.4 487.11,491.4 491.92,491.4 496.74,491.4 501.56,491.4 506.37,491.4" fill="none" stroke="#111" stroke-width="1.5" stroke-linejoin="round" stroke-dasharray="5.5,2.4"/>
<line x1="39.31" y1="491.4" x2="506.37" y2="491.4" stroke="#111" stroke-width="1.5" stroke-dasharray="1.5,2.5"/>
<rect x="34.3" y="469.2" width="482" height="383.1" fill="none" stroke="#6a6a6a" stroke-width="1"/>
<line x1="34.5" y1="852.3" x2="34.5" y2="855.3" stroke="#6a6a6a" stroke-width="0.9"/>
<text x="34.5" y="866.9" font-size="11.42" text-anchor="middle" textLength="16.22" lengthAdjust="spacingAndGlyphs">0.0</text>
<line x1="130.8" y1="852.3" x2="130.8" y2="855.3" stroke="#6a6a6a" stroke-width="0.9"/>
<text x="130.8" y="866.9" font-size="11.42" text-anchor="middle" textLength="16.22" lengthAdjust="spacingAndGlyphs">0.2</text>
<line x1="227.1" y1="852.3" x2="227.1" y2="855.3" stroke="#6a6a6a" stroke-width="0.9"/>
<text x="227.1" y="866.9" font-size="11.42" text-anchor="middle" textLength="16.22" lengthAdjust="spacingAndGlyphs">0.4</text>
<line x1="323.4" y1="852.3" x2="323.4" y2="855.3" stroke="#6a6a6a" stroke-width="0.9"/>
<text x="323.4" y="866.9" font-size="11.42" text-anchor="middle" textLength="16.22" lengthAdjust="spacingAndGlyphs">0.6</text>
<line x1="419.7" y1="852.3" x2="419.7" y2="855.3" stroke="#6a6a6a" stroke-width="0.9"/>
<text x="419.7" y="866.9" font-size="11.42" text-anchor="middle" textLength="16.22" lengthAdjust="spacingAndGlyphs">0.8</text>
<line x1="516" y1="852.3" x2="516" y2="855.3" stroke="#6a6a6a" stroke-width="0.9"/>
<text x="516" y="866.9" font-size="11.42" text-anchor="middle" textLength="16.22" lengthAdjust="spacingAndGlyphs">1.0</text>
<line x1="31.3" y1="491.4" x2="34.3" y2="491.4" stroke="#6a6a6a" stroke-width="0.9"/>
<text x="28.3" y="495.1" font-size="11.42" text-anchor="end" textLength="6.49" lengthAdjust="spacingAndGlyphs">0</text>
<line x1="31.3" y1="569.5" x2="34.3" y2="569.5" stroke="#6a6a6a" stroke-width="0.9"/>
<text x="28.3" y="573.2" font-size="11.42" text-anchor="end" textLength="9.94" lengthAdjust="spacingAndGlyphs">-1</text>
<line x1="31.3" y1="647.6" x2="34.3" y2="647.6" stroke="#6a6a6a" stroke-width="0.9"/>
<text x="28.3" y="651.3" font-size="11.42" text-anchor="end" textLength="9.94" lengthAdjust="spacingAndGlyphs">-2</text>
<line x1="31.3" y1="725.7" x2="34.3" y2="725.7" stroke="#6a6a6a" stroke-width="0.9"/>
<text x="28.3" y="729.4" font-size="11.42" text-anchor="end" textLength="9.94" lengthAdjust="spacingAndGlyphs">-3</text>
<line x1="31.3" y1="803.8" x2="34.3" y2="803.8" stroke="#6a6a6a" stroke-width="0.9"/>
<text x="28.3" y="807.5" font-size="11.42" text-anchor="end" textLength="9.94" lengthAdjust="spacingAndGlyphs">-4</text>
<text x="275.2" y="464.2" font-size="13.44" text-anchor="middle" textLength="146.71" lengthAdjust="spacingAndGlyphs">Decision Curve Analysis</text>
<text x="275.1" y="880" font-size="11.54" text-anchor="middle" textLength="113.03" lengthAdjust="spacingAndGlyphs">Threshold Probability</text>
<text x="11.6" y="661.2" font-size="11.42" text-anchor="middle" textLength="59.34" lengthAdjust="spacingAndGlyphs" transform="rotate(-90 11.6 661.2)">Net Benefit</text>
<rect x="39.8" y="695.7" width="151.1" height="150.6" fill="#fff" stroke="#d6d6d6" stroke-width="0.8" rx="2"/>
<line x1="44.1" y1="704.9" x2="67.4" y2="704.9" stroke="#1a7fc0" stroke-width="1.5"/>
<text x="76.4" y="709.1" font-size="12.43" textLength="109.28" lengthAdjust="spacingAndGlyphs">SSA-RandomForest</text>
<line x1="44.1" y1="721.31" x2="67.4" y2="721.31" stroke="#ff8708" stroke-width="1.5"/>
<text x="76.4" y="725.51" font-size="12.43" textLength="74.83" lengthAdjust="spacingAndGlyphs">SSA-XGBoost</text>
<line x1="44.1" y1="737.72" x2="67.4" y2="737.72" stroke="#12a33a" stroke-width="1.5"/>
<text x="76.4" y="741.92" font-size="12.43" textLength="26.99" lengthAdjust="spacingAndGlyphs">SVM</text>
<line x1="44.1" y1="754.13" x2="67.4" y2="754.13" stroke="#f0282e" stroke-width="1.5"/>
<text x="76.4" y="758.33" font-size="12.43" textLength="107.32" lengthAdjust="spacingAndGlyphs">LogisticRegression</text>
<line x1="44.1" y1="770.54" x2="67.4" y2="770.54" stroke="#a070cf" stroke-width="1.5"/>
<text x="76.4" y="774.74" font-size="12.43" textLength="74.16" lengthAdjust="spacingAndGlyphs">DecisionTree</text>
<line x1="44.1" y1="786.95" x2="67.4" y2="786.95" stroke="#925a4f" stroke-width="1.5"/>
<text x="76.4" y="791.15" font-size="12.43" textLength="27.72" lengthAdjust="spacingAndGlyphs">KNN</text>
<line x1="44.1" y1="803.36" x2="67.4" y2="803.36" stroke="#f77fcb" stroke-width="1.5"/>
<text x="76.4" y="807.56" font-size="12.43" textLength="26.21" lengthAdjust="spacingAndGlyphs">MLP</text>
<line x1="44.1" y1="819.77" x2="67.4" y2="819.77" stroke="#111" stroke-width="1.5" stroke-dasharray="5.5,2.4"/>
<text x="76.4" y="823.97" font-size="12.43" textLength="49" lengthAdjust="spacingAndGlyphs">Treat All</text>
<line x1="44.1" y1="836.18" x2="67.4" y2="836.18" stroke="#111" stroke-width="1.5" stroke-dasharray="1.5,2.5"/>
<text x="76.4" y="840.38" font-size="12.43" textLength="64" lengthAdjust="spacingAndGlyphs">Treat None</text>
<rect x="558.3" y="464.5" width="74.9" height="70.2" fill="#072c6e"/>
<rect x="633.2" y="464.5" width="75.1" height="70.2" fill="#e8f3fd"/>
<rect x="558.3" y="534.7" width="74.9" height="69" fill="#f5f9fe"/>
<rect x="633.2" y="534.7" width="75.1" height="69" fill="#e7f2fc"/>
<line x1="633.8" y1="464.5" x2="633.8" y2="535.9" stroke="#fbfdff" stroke-width="1.2"/>
<line x1="558.3" y1="535.3" x2="634.4" y2="535.3" stroke="#fbfdff" stroke-width="1.2"/>
<text x="595.75" y="501.24" font-size="4.77" font-family="'Liberation Sans', sans-serif" text-anchor="middle" textLength="8.59" lengthAdjust="spacingAndGlyphs" fill="#d4e4f4">138</text>
<text x="670.75" y="501.24" font-size="4.77" font-family="'Liberation Sans', sans-serif" text-anchor="middle" textLength="2.86" lengthAdjust="spacingAndGlyphs" fill="#3a3a3a">7</text>
<text x="595.75" y="570.84" font-size="4.77" font-family="'Liberation Sans', sans-serif" text-anchor="middle" textLength="2.86" lengthAdjust="spacingAndGlyphs" fill="#3a3a3a">2</text>
<text x="670.75" y="570.84" font-size="4.77" font-family="'Liberation Sans', sans-serif" text-anchor="middle" textLength="2.86" lengthAdjust="spacingAndGlyphs" fill="#3a3a3a">8</text>
<text x="633.3" y="461.9" font-size="5" font-family="'Liberation Sans', sans-serif" text-anchor="middle" textLength="70" lengthAdjust="spacingAndGlyphs" fill="#2e2e2e">Confusion Matrix - Initial RF</text>
<text x="554.17" y="499.6" font-size="4.56" font-family="'Liberation Sans', sans-serif" text-anchor="middle" textLength="17.57" lengthAdjust="spacingAndGlyphs" fill="#3a3a3a" transform="rotate(-90 554.17 499.6)">Actual 0</text>
<line x1="556.3" y1="499.6" x2="557.5" y2="499.6" stroke="#aaa" stroke-width="0.5"/>
<text x="554.17" y="569.2" font-size="4.56" font-family="'Liberation Sans', sans-serif" text-anchor="middle" textLength="17.57" lengthAdjust="spacingAndGlyphs" fill="#3a3a3a" transform="rotate(-90 554.17 569.2)">Actual 1</text>
<line x1="556.3" y1="569.2" x2="557.5" y2="569.2" stroke="#aaa" stroke-width="0.5"/>
<text x="595.75" y="610.97" font-size="4.56" font-family="'Liberation Sans', sans-serif" text-anchor="middle" textLength="24.29" lengthAdjust="spacingAndGlyphs" fill="#3a3a3a">Predicted 0</text>
<line x1="595.75" y1="604.5" x2="595.75" y2="605.7" stroke="#aaa" stroke-width="0.5"/>
<text x="670.75" y="610.97" font-size="4.56" font-family="'Liberation Sans', sans-serif" text-anchor="middle" textLength="24.29" lengthAdjust="spacingAndGlyphs" fill="#3a3a3a">Predicted 1</text>
<line x1="670.75" y1="604.5" x2="670.75" y2="605.7" stroke="#aaa" stroke-width="0.5"/>
<rect x="735" y="466.6" width="74.8" height="69.4" fill="#072c6e"/>
<rect x="809.8" y="466.6" width="74.1" height="69.4" fill="#f3f8fe"/>
<rect x="735" y="536" width="74.8" height="68.4" fill="#f5f9fe"/>
<rect x="809.8" y="536" width="74.1" height="68.4" fill="#f5f9fe"/>
<line x1="810.4" y1="466.6" x2="810.4" y2="537.2" stroke="#fbfdff" stroke-width="1.2"/>
<line x1="735" y1="536.6" x2="811" y2="536.6" stroke="#fbfdff" stroke-width="1.2"/>
<text x="772.4" y="502.94" font-size="4.77" font-family="'Liberation Sans', sans-serif" text-anchor="middle" textLength="8.59" lengthAdjust="spacingAndGlyphs" fill="#d4e4f4">139</text>
<text x="846.85" y="502.94" font-size="4.77" font-family="'Liberation Sans', sans-serif" text-anchor="middle" textLength="2.86" lengthAdjust="spacingAndGlyphs" fill="#3a3a3a">6</text>
<text x="772.4" y="571.84" font-size="4.77" font-family="'Liberation Sans', sans-serif" text-anchor="middle" textLength="2.86" lengthAdjust="spacingAndGlyphs" fill="#3a3a3a">5</text>
<text x="846.85" y="571.84" font-size="4.77" font-family="'Liberation Sans', sans-serif" text-anchor="middle" textLength="2.86" lengthAdjust="spacingAndGlyphs" fill="#3a3a3a">5</text>
<text x="809.45" y="463.9" font-size="5" font-family="'Liberation Sans', sans-serif" text-anchor="middle" textLength="84.3" lengthAdjust="spacingAndGlyphs" fill="#2e2e2e">Confusion Matrix - Initial XGBoost</text>
<text x="731.17" y="501.3" font-size="4.56" font-family="'Liberation Sans', sans-serif" text-anchor="middle" textLength="17.57" lengthAdjust="spacingAndGlyphs" fill="#3a3a3a" transform="rotate(-90 731.17 501.3)">Actual 0</text>
<line x1="733" y1="501.3" x2="734.2" y2="501.3" stroke="#aaa" stroke-width="0.5"/>
<text x="731.17" y="570.2" font-size="4.56" font-family="'Liberation Sans', sans-serif" text-anchor="middle" textLength="17.57" lengthAdjust="spacingAndGlyphs" fill="#3a3a3a" transform="rotate(-90 731.17 570.2)">Actual 1</text>
<line x1="733" y1="570.2" x2="734.2" y2="570.2" stroke="#aaa" stroke-width="0.5"/>
<text x="772.4" y="611.27" font-size="4.56" font-family="'Liberation Sans', sans-serif" text-anchor="middle" textLength="24.29" lengthAdjust="spacingAndGlyphs" fill="#3a3a3a">Predicted 0</text>
<line x1="772.4" y1="605.2" x2="772.4" y2="606.4" stroke="#aaa" stroke-width="0.5"/>
<text x="846.85" y="611.27" font-size="4.56" font-family="'Liberation Sans', sans-serif" text-anchor="middle" textLength="24.29" lengthAdjust="spacingAndGlyphs" fill="#3a3a3a">Predicted 1</text>
<line x1="846.85" y1="605.2" x2="846.85" y2="606.4" stroke="#aaa" stroke-width="0.5"/>
<rect x="558.7" y="717.5" width="74.4" height="69.2" fill="#072c6e"/>
<rect x="633.1" y="717.5" width="74.3" height="69.2" fill="#f2f7fd"/>
<rect x="558.7" y="786.7" width="74.4" height="68.6" fill="#f5f9fe"/>
<rect x="633.1" y="786.7" width="74.3" height="68.6" fill="#e6f0fa"/>
<line x1="633.7" y1="717.5" x2="633.7" y2="787.9" stroke="#fbfdff" stroke-width="1.2"/>
<line x1="558.7" y1="787.3" x2="634.3" y2="787.3" stroke="#fbfdff" stroke-width="1.2"/>
<text x="595.9" y="753.92" font-size="5.3" font-family="'Liberation Sans', sans-serif" text-anchor="middle" textLength="9.54" lengthAdjust="spacingAndGlyphs" fill="#d4e4f4">142</text>
<text x="670.25" y="753.92" font-size="5.3" font-family="'Liberation Sans', sans-serif" text-anchor="middle" textLength="3.18" lengthAdjust="spacingAndGlyphs" fill="#3a3a3a">3</text>
<text x="595.9" y="822.82" font-size="5.3" font-family="'Liberation Sans', sans-serif" text-anchor="middle" textLength="3.18" lengthAdjust="spacingAndGlyphs" fill="#3a3a3a">1</text>
<text x="670.25" y="822.82" font-size="5.3" font-family="'Liberation Sans', sans-serif" text-anchor="middle" textLength="3.18" lengthAdjust="spacingAndGlyphs" fill="#3a3a3a">9</text>
<text x="633.05" y="715.3" font-size="5" font-family="'Liberation Sans', sans-serif" text-anchor="middle" textLength="80.1" lengthAdjust="spacingAndGlyphs" fill="#2e2e2e">Confusion Matrix - Optimized RF</text>
<text x="554.79" y="752.1" font-size="5.19" font-family="'Liberation Sans', sans-serif" text-anchor="middle" textLength="20.03" lengthAdjust="spacingAndGlyphs" fill="#3a3a3a" transform="rotate(-90 554.79 752.1)">Actual 0</text>
<line x1="556.7" y1="752.1" x2="557.9" y2="752.1" stroke="#aaa" stroke-width="0.5"/>
<text x="554.79" y="821" font-size="5.19" font-family="'Liberation Sans', sans-serif" text-anchor="middle" textLength="20.03" lengthAdjust="spacingAndGlyphs" fill="#3a3a3a" transform="rotate(-90 554.79 821)">Actual 1</text>
<line x1="556.7" y1="821" x2="557.9" y2="821" stroke="#aaa" stroke-width="0.5"/>
<text x="595.9" y="862.89" font-size="5.19" font-family="'Liberation Sans', sans-serif" text-anchor="middle" textLength="27.68" lengthAdjust="spacingAndGlyphs" fill="#3a3a3a">Predicted 0</text>
<line x1="595.9" y1="856.1" x2="595.9" y2="857.3" stroke="#aaa" stroke-width="0.5"/>
<text x="670.25" y="862.89" font-size="5.19" font-family="'Liberation Sans', sans-serif" text-anchor="middle" textLength="27.68" lengthAdjust="spacingAndGlyphs" fill="#3a3a3a">Predicted 1</text>
<line x1="670.25" y1="856.1" x2="670.25" y2="857.3" stroke="#aaa" stroke-width="0.5"/>
<rect x="738.3" y="713.1" width="71" height="66" fill="#072c6e"/>
<rect x="809.3" y="713.1" width="71.7" height="66" fill="#eef5fc"/>
<rect x="738.3" y="779.1" width="71" height="66.5" fill="#f5f9fe"/>
<rect x="809.3" y="779.1" width="71.7" height="66.5" fill="#eef5fc"/>
<line x1="809.9" y1="713.1" x2="809.9" y2="780.3" stroke="#fbfdff" stroke-width="1.2"/>
<line x1="738.3" y1="779.7" x2="810.5" y2="779.7" stroke="#fbfdff" stroke-width="1.2"/>
<text x="773.8" y="747.74" font-size="4.77" font-family="'Liberation Sans', sans-serif" text-anchor="middle" textLength="8.59" lengthAdjust="spacingAndGlyphs" fill="#d4e4f4">138</text>
<text x="845.15" y="747.74" font-size="4.77" font-family="'Liberation Sans', sans-serif" text-anchor="middle" textLength="2.86" lengthAdjust="spacingAndGlyphs" fill="#3a3a3a">7</text>
<text x="773.8" y="813.99" font-size="4.77" font-family="'Liberation Sans', sans-serif" text-anchor="middle" textLength="2.86" lengthAdjust="spacingAndGlyphs" fill="#3a3a3a">3</text>
<text x="845.15" y="813.99" font-size="4.77" font-family="'Liberation Sans', sans-serif" text-anchor="middle" textLength="2.86" lengthAdjust="spacingAndGlyphs" fill="#3a3a3a">7</text>
<text x="809.65" y="710.3" font-size="5" font-family="'Liberation Sans', sans-serif" text-anchor="middle" textLength="92" lengthAdjust="spacingAndGlyphs" fill="#2e2e2e">Confusion Matrix - Optimized XGBoost</text>
<text x="734.07" y="746.1" font-size="4.56" font-family="'Liberation Sans', sans-serif" text-anchor="middle" textLength="17.57" lengthAdjust="spacingAndGlyphs" fill="#3a3a3a" transform="rotate(-90 734.07 746.1)">Actual 0</text>
<line x1="736.3" y1="746.1" x2="737.5" y2="746.1" stroke="#aaa" stroke-width="0.5"/>
<text x="734.07" y="812.35" font-size="4.56" font-family="'Liberation Sans', sans-serif" text-anchor="middle" textLength="17.57" lengthAdjust="spacingAndGlyphs" fill="#3a3a3a" transform="rotate(-90 734.07 812.35)">Actual 1</text>
<line x1="736.3" y1="812.35" x2="737.5" y2="812.35" stroke="#aaa" stroke-width="0.5"/>
<text x="773.8" y="851.97" font-size="4.56" font-family="'Liberation Sans', sans-serif" text-anchor="middle" textLength="24.29" lengthAdjust="spacingAndGlyphs" fill="#3a3a3a">Predicted 0</text>
<line x1="773.8" y1="846.4" x2="773.8" y2="847.6" stroke="#aaa" stroke-width="0.5"/>
<text x="845.15" y="851.97" font-size="4.56" font-family="'Liberation Sans', sans-serif" text-anchor="middle" textLength="24.29" lengthAdjust="spacingAndGlyphs" fill="#3a3a3a">Predicted 1</text>
<line x1="845.15" y1="846.4" x2="845.15" y2="847.6" stroke="#aaa" stroke-width="0.5"/>
<line x1="132.2" y1="985.6" x2="132.2" y2="1217.9" stroke="#f0f0f0" stroke-width="1"/>
<line x1="168.6" y1="985.6" x2="168.6" y2="1217.9" stroke="#f0f0f0" stroke-width="1"/>
<line x1="205" y1="985.6" x2="205" y2="1217.9" stroke="#f0f0f0" stroke-width="1"/>
<line x1="241.4" y1="985.6" x2="241.4" y2="1217.9" stroke="#f0f0f0" stroke-width="1"/>
<line x1="277.8" y1="985.6" x2="277.8" y2="1217.9" stroke="#f0f0f0" stroke-width="1"/>
<line x1="314.2" y1="985.6" x2="314.2" y2="1217.9" stroke="#f0f0f0" stroke-width="1"/>
<line x1="350.6" y1="985.6" x2="350.6" y2="1217.9" stroke="#f0f0f0" stroke-width="1"/>
<line x1="387" y1="985.6" x2="387" y2="1217.9" stroke="#f0f0f0" stroke-width="1"/>
<line x1="423.4" y1="985.6" x2="423.4" y2="1217.9" stroke="#f0f0f0" stroke-width="1"/>
<line x1="118.6" y1="1217.3" x2="436.7" y2="1217.3" stroke="#f0f0f0" stroke-width="1"/>
<line x1="118.6" y1="1170.1" x2="436.7" y2="1170.1" stroke="#f0f0f0" stroke-width="1"/>
<line x1="118.6" y1="1122.9" x2="436.7" y2="1122.9" stroke="#f0f0f0" stroke-width="1"/>
<line x1="118.6" y1="1075.7" x2="436.7" y2="1075.7" stroke="#f0f0f0" stroke-width="1"/>
<line x1="118.6" y1="1028.5" x2="436.7" y2="1028.5" stroke="#f0f0f0" stroke-width="1"/>
<polyline points="132.2,995.95 205,1116.39 277.8,1161.96 350.6,1188 423.4,1207.53" fill="none" stroke="#1a7fc0" stroke-width="1.4" stroke-linejoin="round" stroke-linecap="square"/>
<circle cx="132.2" cy="995.95" r="2.5" fill="#1a7fc0"/>
<circle cx="205" cy="1116.39" r="2.5" fill="#1a7fc0"/>
<circle cx="277.8" cy="1161.96" r="2.5" fill="#1a7fc0"/>
<circle cx="350.6" cy="1188" r="2.5" fill="#1a7fc0"/>
<circle cx="423.4" cy="1207.53" r="2.5" fill="#1a7fc0"/>
<polyline points="132.2,1152.2 205,1174.98 277.8,1181.49 350.6,1194.51 423.4,1197.77" fill="none" stroke="#ff8708" stroke-width="1.4" stroke-linejoin="round" stroke-linecap="square"/>
<circle cx="132.2" cy="1152.2" r="2.5" fill="#ff8708"/>
<circle cx="205" cy="1174.98" r="2.5" fill="#ff8708"/>
<circle cx="277.8" cy="1181.49" r="2.5" fill="#ff8708"/>
<circle cx="350.6" cy="1194.51" r="2.5" fill="#ff8708"/>
<circle cx="423.4" cy="1197.77" r="2.5" fill="#ff8708"/>
<polyline points="132.2,1122.9 205,1142.43 277.8,1158.71 350.6,1171.73 423.4,1181.49" fill="none" stroke="#12a33a" stroke-width="1.4" stroke-linejoin="round" stroke-linecap="square"/>
<circle cx="132.2" cy="1122.9" r="2.5" fill="#12a33a"/>
<circle cx="205" cy="1142.43" r="2.5" fill="#12a33a"/>
<circle cx="277.8" cy="1158.71" r="2.5" fill="#12a33a"/>
<circle cx="350.6" cy="1171.73" r="2.5" fill="#12a33a"/>
<circle cx="423.4" cy="1181.49" r="2.5" fill="#12a33a"/>
<polyline points="132.2,1015.48 205,1044.78 277.8,1080.58 350.6,1093.6 423.4,1113.13" fill="none" stroke="#f0282e" stroke-width="1.4" stroke-linejoin="round" stroke-linecap="square"/>
<circle cx="132.2" cy="1015.48" r="2.5" fill="#f0282e"/>
<circle cx="205" cy="1044.78" r="2.5" fill="#f0282e"/>
<circle cx="277.8" cy="1080.58" r="2.5" fill="#f0282e"/>
<circle cx="350.6" cy="1093.6" r="2.5" fill="#f0282e"/>
<circle cx="423.4" cy="1113.13" r="2.5" fill="#f0282e"/>
<polyline points="132.2,1171.73 205,1171.73 277.8,1171.73 350.6,1171.73 423.4,1171.73" fill="none" stroke="#a070cf" stroke-width="1.4" stroke-linejoin="round" stroke-linecap="square"/>
<circle cx="132.2" cy="1171.73" r="2.5" fill="#a070cf"/>
<circle cx="205" cy="1171.73" r="2.5" fill="#a070cf"/>
<circle cx="277.8" cy="1171.73" r="2.5" fill="#a070cf"/>
<circle cx="350.6" cy="1171.73" r="2.5" fill="#a070cf"/>
<circle cx="423.4" cy="1171.73" r="2.5" fill="#a070cf"/>
<polyline points="132.2,1031.76 205,1031.76 277.8,1080.58 350.6,1080.58 423.4,1106.62" fill="none" stroke="#925a4f" stroke-width="1.4" stroke-linejoin="round" stroke-linecap="square"/>
<circle cx="132.2" cy="1031.76" r="2.5" fill="#925a4f"/>
<circle cx="205" cy="1031.76" r="2.5" fill="#925a4f"/>
<circle cx="277.8" cy="1080.58" r="2.5" fill="#925a4f"/>
<circle cx="350.6" cy="1080.58" r="2.5" fill="#925a4f"/>
<circle cx="423.4" cy="1106.62" r="2.5" fill="#925a4f"/>
<polyline points="132.2,1155.45 205,1171.73 277.8,1174.98 350.6,1184.75 423.4,1188" fill="none" stroke="#f77fcb" stroke-width="1.4" stroke-linejoin="round" stroke-linecap="square"/>
<circle cx="132.2" cy="1155.45" r="2.5" fill="#f77fcb"/>
<circle cx="205" cy="1171.73" r="2.5" fill="#f77fcb"/>
<circle cx="277.8" cy="1174.98" r="2.5" fill="#f77fcb"/>
<circle cx="350.6" cy="1184.75" r="2.5" fill="#f77fcb"/>
<circle cx="423.4" cy="1188" r="2.5" fill="#f77fcb"/>
<rect x="118.6" y="985.6" width="318.1" height="232.3" fill="none" stroke="#6a6a6a" stroke-width="1"/>
<line x1="132.2" y1="1217.9" x2="132.2" y2="1220.5" stroke="#6a6a6a" stroke-width="0.9"/>
<text x="132.2" y="1229.6" font-size="9.63" text-anchor="middle" textLength="19.15" lengthAdjust="spacingAndGlyphs">0.10</text>
<line x1="168.6" y1="1217.9" x2="168.6" y2="1220.5" stroke="#6a6a6a" stroke-width="0.9"/>
<text x="168.6" y="1229.6" font-size="9.63" text-anchor="middle" textLength="19.15" lengthAdjust="spacingAndGlyphs">0.15</text>
<line x1="205" y1="1217.9" x2="205" y2="1220.5" stroke="#6a6a6a" stroke-width="0.9"/>
<text x="205" y="1229.6" font-size="9.63" text-anchor="middle" textLength="19.15" lengthAdjust="spacingAndGlyphs">0.20</text>
<line x1="241.4" y1="1217.9" x2="241.4" y2="1220.5" stroke="#6a6a6a" stroke-width="0.9"/>
<text x="241.4" y="1229.6" font-size="9.63" text-anchor="middle" textLength="19.15" lengthAdjust="spacingAndGlyphs">0.25</text>
<line x1="277.8" y1="1217.9" x2="277.8" y2="1220.5" stroke="#6a6a6a" stroke-width="0.9"/>
<text x="277.8" y="1229.6" font-size="9.63" text-anchor="middle" textLength="19.15" lengthAdjust="spacingAndGlyphs">0.30</text>
<line x1="314.2" y1="1217.9" x2="314.2" y2="1220.5" stroke="#6a6a6a" stroke-width="0.9"/>
<text x="314.2" y="1229.6" font-size="9.63" text-anchor="middle" textLength="19.15" lengthAdjust="spacingAndGlyphs">0.35</text>
<line x1="350.6" y1="1217.9" x2="350.6" y2="1220.5" stroke="#6a6a6a" stroke-width="0.9"/>
<text x="350.6" y="1229.6" font-size="9.63" text-anchor="middle" textLength="19.15" lengthAdjust="spacingAndGlyphs">0.40</text>
<line x1="387" y1="1217.9" x2="387" y2="1220.5" stroke="#6a6a6a" stroke-width="0.9"/>
<text x="387" y="1229.6" font-size="9.63" text-anchor="middle" textLength="19.15" lengthAdjust="spacingAndGlyphs">0.45</text>
<line x1="423.4" y1="1217.9" x2="423.4" y2="1220.5" stroke="#6a6a6a" stroke-width="0.9"/>
<text x="423.4" y="1229.6" font-size="9.63" text-anchor="middle" textLength="19.15" lengthAdjust="spacingAndGlyphs">0.50</text>
<line x1="116" y1="1217.3" x2="118.6" y2="1217.3" stroke="#6a6a6a" stroke-width="0.9"/>
<text x="113.4" y="1220.5" font-size="9.63" text-anchor="end" textLength="5.47" lengthAdjust="spacingAndGlyphs">0</text>
<line x1="116" y1="1170.1" x2="118.6" y2="1170.1" stroke="#6a6a6a" stroke-width="0.9"/>
<text x="113.4" y="1173.3" font-size="9.63" text-anchor="end" textLength="10.94" lengthAdjust="spacingAndGlyphs">10</text>
<line x1="116" y1="1122.9" x2="118.6" y2="1122.9" stroke="#6a6a6a" stroke-width="0.9"/>
<text x="113.4" y="1126.1" font-size="9.63" text-anchor="end" textLength="10.94" lengthAdjust="spacingAndGlyphs">20</text>
<line x1="116" y1="1075.7" x2="118.6" y2="1075.7" stroke="#6a6a6a" stroke-width="0.9"/>
<text x="113.4" y="1078.9" font-size="9.63" text-anchor="end" textLength="10.94" lengthAdjust="spacingAndGlyphs">30</text>
<line x1="116" y1="1028.5" x2="118.6" y2="1028.5" stroke="#6a6a6a" stroke-width="0.9"/>
<text x="113.4" y="1031.7" font-size="9.63" text-anchor="end" textLength="10.94" lengthAdjust="spacingAndGlyphs">40</text>
<text x="277.8" y="981.8" font-size="11.59" text-anchor="middle" textLength="169.83" lengthAdjust="spacingAndGlyphs">False Positive Rate vs Threshold</text>
<text x="277.65" y="1240.8" font-size="9.63" text-anchor="middle" textLength="43.86" lengthAdjust="spacingAndGlyphs">Threshold</text>
<text x="97.8" y="1101.7" font-size="9.63" text-anchor="middle" textLength="100.13" lengthAdjust="spacingAndGlyphs" transform="rotate(-90 97.8 1101.7)">False Positive Rate (%)</text>
<rect x="316.4" y="988.2" width="117.4" height="92.1" fill="#fff" stroke="#d6d6d6" stroke-width="0.8" rx="2" fill-opacity="0.85"/>
<line x1="320.1" y1="996.5" x2="337.7" y2="996.5" stroke="#1a7fc0" stroke-width="1.5"/>
<circle cx="328.8" cy="996.5" r="2.5" fill="#1a7fc0"/>
<text x="344.2" y="999.7" font-size="9.74" textLength="85.65" lengthAdjust="spacingAndGlyphs">SSA-RandomForest</text>
<line x1="320.1" y1="1009.22" x2="337.7" y2="1009.22" stroke="#ff8708" stroke-width="1.5"/>
<circle cx="328.8" cy="1009.22" r="2.5" fill="#ff8708"/>
<text x="344.2" y="1012.42" font-size="9.74" textLength="58.65" lengthAdjust="spacingAndGlyphs">SSA-XGBoost</text>
<line x1="320.1" y1="1021.94" x2="337.7" y2="1021.94" stroke="#12a33a" stroke-width="1.5"/>
<circle cx="328.8" cy="1021.94" r="2.5" fill="#12a33a"/>
<text x="344.2" y="1025.14" font-size="9.74" textLength="21.15" lengthAdjust="spacingAndGlyphs">SVM</text>
<line x1="320.1" y1="1034.66" x2="337.7" y2="1034.66" stroke="#f0282e" stroke-width="1.5"/>
<circle cx="328.8" cy="1034.66" r="2.5" fill="#f0282e"/>
<text x="344.2" y="1037.86" font-size="9.74" textLength="84.11" lengthAdjust="spacingAndGlyphs">LogisticRegression</text>
<line x1="320.1" y1="1047.38" x2="337.7" y2="1047.38" stroke="#a070cf" stroke-width="1.5"/>
<circle cx="328.8" cy="1047.38" r="2.5" fill="#a070cf"/>
<text x="344.2" y="1050.58" font-size="9.74" textLength="58.13" lengthAdjust="spacingAndGlyphs">DecisionTree</text>
<line x1="320.1" y1="1060.1" x2="337.7" y2="1060.1" stroke="#925a4f" stroke-width="1.5"/>
<circle cx="328.8" cy="1060.1" r="2.5" fill="#925a4f"/>
<text x="344.2" y="1063.3" font-size="9.74" textLength="21.72" lengthAdjust="spacingAndGlyphs">KNN</text>
<line x1="320.1" y1="1072.82" x2="337.7" y2="1072.82" stroke="#f77fcb" stroke-width="1.5"/>
<circle cx="328.8" cy="1072.82" r="2.5" fill="#f77fcb"/>
<text x="344.2" y="1076.02" font-size="9.74" textLength="20.54" lengthAdjust="spacingAndGlyphs">MLP</text>
<line x1="488.5" y1="985.6" x2="488.5" y2="1217.9" stroke="#f0f0f0" stroke-width="1"/>
<line x1="524.8" y1="985.6" x2="524.8" y2="1217.9" stroke="#f0f0f0" stroke-width="1"/>
<line x1="561.1" y1="985.6" x2="561.1" y2="1217.9" stroke="#f0f0f0" stroke-width="1"/>
<line x1="597.4" y1="985.6" x2="597.4" y2="1217.9" stroke="#f0f0f0" stroke-width="1"/>
<line x1="633.7" y1="985.6" x2="633.7" y2="1217.9" stroke="#f0f0f0" stroke-width="1"/>
<line x1="670" y1="985.6" x2="670" y2="1217.9" stroke="#f0f0f0" stroke-width="1"/>
<line x1="706.3" y1="985.6" x2="706.3" y2="1217.9" stroke="#f0f0f0" stroke-width="1"/>
<line x1="742.6" y1="985.6" x2="742.6" y2="1217.9" stroke="#f0f0f0" stroke-width="1"/>
<line x1="778.9" y1="985.6" x2="778.9" y2="1217.9" stroke="#f0f0f0" stroke-width="1"/>
<line x1="474" y1="1190.25" x2="792.5" y2="1190.25" stroke="#f0f0f0" stroke-width="1"/>
<line x1="474" y1="1142.1" x2="792.5" y2="1142.1" stroke="#f0f0f0" stroke-width="1"/>
<line x1="474" y1="1093.95" x2="792.5" y2="1093.95" stroke="#f0f0f0" stroke-width="1"/>
<line x1="474" y1="1045.8" x2="792.5" y2="1045.8" stroke="#f0f0f0" stroke-width="1"/>
<line x1="474" y1="997.65" x2="792.5" y2="997.65" stroke="#f0f0f0" stroke-width="1"/>
<polyline points="488.5,996.1 561.1,1111.04 633.7,1157.63 706.3,1182.48 778.9,1207.34" fill="none" stroke="#1a7fc0" stroke-width="1.4" stroke-linejoin="round" stroke-linecap="square"/>
<circle cx="488.5" cy="996.1" r="2.5" fill="#1a7fc0"/>
<circle cx="561.1" cy="1111.04" r="2.5" fill="#1a7fc0"/>
<circle cx="633.7" cy="1157.63" r="2.5" fill="#1a7fc0"/>
<circle cx="706.3" cy="1182.48" r="2.5" fill="#1a7fc0"/>
<circle cx="778.9" cy="1207.34" r="2.5" fill="#1a7fc0"/>
<polyline points="488.5,1151.42 561.1,1173.16 633.7,1188.7 706.3,1201.12 778.9,1204.23" fill="none" stroke="#ff8708" stroke-width="1.4" stroke-linejoin="round" stroke-linecap="square"/>
<circle cx="488.5" cy="1151.42" r="2.5" fill="#ff8708"/>
<circle cx="561.1" cy="1173.16" r="2.5" fill="#ff8708"/>
<circle cx="633.7" cy="1188.7" r="2.5" fill="#ff8708"/>
<circle cx="706.3" cy="1201.12" r="2.5" fill="#ff8708"/>
<circle cx="778.9" cy="1204.23" r="2.5" fill="#ff8708"/>
<polyline points="488.5,1129.67 561.1,1151.42 633.7,1166.95 706.3,1185.59 778.9,1198.02" fill="none" stroke="#12a33a" stroke-width="1.4" stroke-linejoin="round" stroke-linecap="square"/>
<circle cx="488.5" cy="1129.67" r="2.5" fill="#12a33a"/>
<circle cx="561.1" cy="1151.42" r="2.5" fill="#12a33a"/>
<circle cx="633.7" cy="1166.95" r="2.5" fill="#12a33a"/>
<circle cx="706.3" cy="1185.59" r="2.5" fill="#12a33a"/>
<circle cx="778.9" cy="1198.02" r="2.5" fill="#12a33a"/>
<polyline points="488.5,1017.84 561.1,1045.8 633.7,1079.97 706.3,1092.4 778.9,1111.04" fill="none" stroke="#f0282e" stroke-width="1.4" stroke-linejoin="round" stroke-linecap="square"/>
<circle cx="488.5" cy="1017.84" r="2.5" fill="#f0282e"/>
<circle cx="561.1" cy="1045.8" r="2.5" fill="#f0282e"/>
<circle cx="633.7" cy="1079.97" r="2.5" fill="#f0282e"/>
<circle cx="706.3" cy="1092.4" r="2.5" fill="#f0282e"/>
<circle cx="778.9" cy="1111.04" r="2.5" fill="#f0282e"/>
<polyline points="488.5,1179.38 561.1,1179.38 633.7,1179.38 706.3,1179.38 778.9,1179.38" fill="none" stroke="#a070cf" stroke-width="1.4" stroke-linejoin="round" stroke-linecap="square"/>
<circle cx="488.5" cy="1179.38" r="2.5" fill="#a070cf"/>
<circle cx="561.1" cy="1179.38" r="2.5" fill="#a070cf"/>
<circle cx="633.7" cy="1179.38" r="2.5" fill="#a070cf"/>
<circle cx="706.3" cy="1179.38" r="2.5" fill="#a070cf"/>
<circle cx="778.9" cy="1179.38" r="2.5" fill="#a070cf"/>
<polyline points="488.5,1033.37 561.1,1033.37 633.7,1089.29 706.3,1089.29 778.9,1114.14" fill="none" stroke="#925a4f" stroke-width="1.4" stroke-linejoin="round" stroke-linecap="square"/>
<circle cx="488.5" cy="1033.37" r="2.5" fill="#925a4f"/>
<circle cx="561.1" cy="1033.37" r="2.5" fill="#925a4f"/>
<circle cx="633.7" cy="1089.29" r="2.5" fill="#925a4f"/>
<circle cx="706.3" cy="1089.29" r="2.5" fill="#925a4f"/>
<circle cx="778.9" cy="1114.14" r="2.5" fill="#925a4f"/>
<polyline points="488.5,1163.85 561.1,1179.38 633.7,1182.48 706.3,1191.8 778.9,1194.91" fill="none" stroke="#f77fcb" stroke-width="1.4" stroke-linejoin="round" stroke-linecap="square"/>
<circle cx="488.5" cy="1163.85" r="2.5" fill="#f77fcb"/>
<circle cx="561.1" cy="1179.38" r="2.5" fill="#f77fcb"/>
<circle cx="633.7" cy="1182.48" r="2.5" fill="#f77fcb"/>
<circle cx="706.3" cy="1191.8" r="2.5" fill="#f77fcb"/>
<circle cx="778.9" cy="1194.91" r="2.5" fill="#f77fcb"/>
<rect x="474" y="985.6" width="318.5" height="232.3" fill="none" stroke="#6a6a6a" stroke-width="1"/>
<line x1="488.5" y1="1217.9" x2="488.5" y2="1220.5" stroke="#6a6a6a" stroke-width="0.9"/>
<text x="488.5" y="1229.6" font-size="9.63" text-anchor="middle" textLength="19.15" lengthAdjust="spacingAndGlyphs">0.10</text>
<line x1="524.8" y1="1217.9" x2="524.8" y2="1220.5" stroke="#6a6a6a" stroke-width="0.9"/>
<text x="524.8" y="1229.6" font-size="9.63" text-anchor="middle" textLength="19.15" lengthAdjust="spacingAndGlyphs">0.15</text>
<line x1="561.1" y1="1217.9" x2="561.1" y2="1220.5" stroke="#6a6a6a" stroke-width="0.9"/>
<text x="561.1" y="1229.6" font-size="9.63" text-anchor="middle" textLength="19.15" lengthAdjust="spacingAndGlyphs">0.20</text>
<line x1="597.4" y1="1217.9" x2="597.4" y2="1220.5" stroke="#6a6a6a" stroke-width="0.9"/>
<text x="597.4" y="1229.6" font-size="9.63" text-anchor="middle" textLength="19.15" lengthAdjust="spacingAndGlyphs">0.25</text>
<line x1="633.7" y1="1217.9" x2="633.7" y2="1220.5" stroke="#6a6a6a" stroke-width="0.9"/>
<text x="633.7" y="1229.6" font-size="9.63" text-anchor="middle" textLength="19.15" lengthAdjust="spacingAndGlyphs">0.30</text>
<line x1="670" y1="1217.9" x2="670" y2="1220.5" stroke="#6a6a6a" stroke-width="0.9"/>
<text x="670" y="1229.6" font-size="9.63" text-anchor="middle" textLength="19.15" lengthAdjust="spacingAndGlyphs">0.35</text>
<line x1="706.3" y1="1217.9" x2="706.3" y2="1220.5" stroke="#6a6a6a" stroke-width="0.9"/>
<text x="706.3" y="1229.6" font-size="9.63" text-anchor="middle" textLength="19.15" lengthAdjust="spacingAndGlyphs">0.40</text>
<line x1="742.6" y1="1217.9" x2="742.6" y2="1220.5" stroke="#6a6a6a" stroke-width="0.9"/>
<text x="742.6" y="1229.6" font-size="9.63" text-anchor="middle" textLength="19.15" lengthAdjust="spacingAndGlyphs">0.45</text>
<line x1="778.9" y1="1217.9" x2="778.9" y2="1220.5" stroke="#6a6a6a" stroke-width="0.9"/>
<text x="778.9" y="1229.6" font-size="9.63" text-anchor="middle" textLength="19.15" lengthAdjust="spacingAndGlyphs">0.50</text>
<line x1="471.4" y1="1190.25" x2="474" y2="1190.25" stroke="#6a6a6a" stroke-width="0.9"/>
<text x="468.8" y="1193.45" font-size="9.63" text-anchor="end" textLength="10.94" lengthAdjust="spacingAndGlyphs">10</text>
<line x1="471.4" y1="1142.1" x2="474" y2="1142.1" stroke="#6a6a6a" stroke-width="0.9"/>
<text x="468.8" y="1145.3" font-size="9.63" text-anchor="end" textLength="10.94" lengthAdjust="spacingAndGlyphs">20</text>
<line x1="471.4" y1="1093.95" x2="474" y2="1093.95" stroke="#6a6a6a" stroke-width="0.9"/>
<text x="468.8" y="1097.15" font-size="9.63" text-anchor="end" textLength="10.94" lengthAdjust="spacingAndGlyphs">30</text>
<line x1="471.4" y1="1045.8" x2="474" y2="1045.8" stroke="#6a6a6a" stroke-width="0.9"/>
<text x="468.8" y="1049" font-size="9.63" text-anchor="end" textLength="10.94" lengthAdjust="spacingAndGlyphs">40</text>
<line x1="471.4" y1="997.65" x2="474" y2="997.65" stroke="#6a6a6a" stroke-width="0.9"/>
<text x="468.8" y="1000.85" font-size="9.63" text-anchor="end" textLength="10.94" lengthAdjust="spacingAndGlyphs">50</text>
<text x="633.3" y="981.8" font-size="11.59" text-anchor="middle" textLength="191.58" lengthAdjust="spacingAndGlyphs">Alerts per 100 Patients vs Threshold</text>
<text x="633.25" y="1240.8" font-size="9.63" text-anchor="middle" textLength="43.86" lengthAdjust="spacingAndGlyphs">Threshold</text>
<text x="453.5" y="1101" font-size="9.63" text-anchor="middle" textLength="100.59" lengthAdjust="spacingAndGlyphs" transform="rotate(-90 453.5 1101)">Alerts per 100 Patients</text>
<rect x="672.3" y="988.2" width="116.9" height="92.1" fill="#fff" stroke="#d6d6d6" stroke-width="0.8" rx="2" fill-opacity="0.85"/>
<line x1="676" y1="996.5" x2="693.6" y2="996.5" stroke="#1a7fc0" stroke-width="1.5"/>
<circle cx="684.7" cy="996.5" r="2.5" fill="#1a7fc0"/>
<text x="700.1" y="999.7" font-size="9.74" textLength="85.65" lengthAdjust="spacingAndGlyphs">SSA-RandomForest</text>
<line x1="676" y1="1009.22" x2="693.6" y2="1009.22" stroke="#ff8708" stroke-width="1.5"/>
<circle cx="684.7" cy="1009.22" r="2.5" fill="#ff8708"/>
<text x="700.1" y="1012.42" font-size="9.74" textLength="58.65" lengthAdjust="spacingAndGlyphs">SSA-XGBoost</text>
<line x1="676" y1="1021.94" x2="693.6" y2="1021.94" stroke="#12a33a" stroke-width="1.5"/>
<circle cx="684.7" cy="1021.94" r="2.5" fill="#12a33a"/>
<text x="700.1" y="1025.14" font-size="9.74" textLength="21.15" lengthAdjust="spacingAndGlyphs">SVM</text>
<line x1="676" y1="1034.66" x2="693.6" y2="1034.66" stroke="#f0282e" stroke-width="1.5"/>
<circle cx="684.7" cy="1034.66" r="2.5" fill="#f0282e"/>
<text x="700.1" y="1037.86" font-size="9.74" textLength="84.11" lengthAdjust="spacingAndGlyphs">LogisticRegression</text>
<line x1="676" y1="1047.38" x2="693.6" y2="1047.38" stroke="#a070cf" stroke-width="1.5"/>
<circle cx="684.7" cy="1047.38" r="2.5" fill="#a070cf"/>
<text x="700.1" y="1050.58" font-size="9.74" textLength="58.13" lengthAdjust="spacingAndGlyphs">DecisionTree</text>
<line x1="676" y1="1060.1" x2="693.6" y2="1060.1" stroke="#925a4f" stroke-width="1.5"/>
<circle cx="684.7" cy="1060.1" r="2.5" fill="#925a4f"/>
<text x="700.1" y="1063.3" font-size="9.74" textLength="21.72" lengthAdjust="spacingAndGlyphs">KNN</text>
<line x1="676" y1="1072.82" x2="693.6" y2="1072.82" stroke="#f77fcb" stroke-width="1.5"/>
<circle cx="684.7" cy="1072.82" r="2.5" fill="#f77fcb"/>
<text x="700.1" y="1076.02" font-size="9.74" textLength="20.54" lengthAdjust="spacingAndGlyphs">MLP</text>
<text x="84" y="419.1" font-size="23.8" font-weight="bold" fill="#000">a.</text>
<text x="114.5" y="419.1" font-size="23.8" textLength="252.8" lengthAdjust="spacingAndGlyphs" fill="#000">ROC curves of the models</text>
<text x="551.8" y="395.3" font-size="23.8" font-weight="bold" fill="#000">b.</text>
<text x="581.8" y="395.3" font-size="23.8" word-spacing="4.8" textLength="304.5" lengthAdjust="spacing" fill="#000">Precision–Recall curves of the</text>
<text x="694.4" y="418.6" font-size="23.8" textLength="69" lengthAdjust="spacingAndGlyphs" fill="#000">models</text>
<text x="84" y="933.6" font-size="23.8" font-weight="bold" fill="#000">c.</text>
<text x="112.7" y="933.6" font-size="23.8" textLength="312.8" lengthAdjust="spacingAndGlyphs" fill="#000">Calibration curves of the models</text>
<text x="592.2" y="657.6" font-size="23.8" font-weight="bold" fill="#000">d.</text>
<text x="624.2" y="657.6" font-size="23.8" textLength="46.1" lengthAdjust="spacingAndGlyphs" fill="#000">Ran-</text>
<text x="578" y="681" font-size="23.8" textLength="107.9" lengthAdjust="spacingAndGlyphs" fill="#000">dom Forest</text>
<text x="765.3" y="657.6" font-size="23.8" font-weight="bold" fill="#000">e.</text>
<text x="793.7" y="657.6" font-size="23.8" textLength="42.3" lengthAdjust="spacingAndGlyphs" fill="#000">XG-</text>
<text x="777" y="681" font-size="23.8" textLength="55.3" lengthAdjust="spacingAndGlyphs" fill="#000">Boost</text>
<text x="586.4" y="909" font-size="23.8" font-weight="bold" fill="#000">f.</text>
<text x="612.6" y="909" font-size="23.8" textLength="50.9" lengthAdjust="spacingAndGlyphs" fill="#000">SSA-</text>
<text x="612.6" y="932.6" font-size="23.8" textLength="27.3" lengthAdjust="spacingAndGlyphs" fill="#000">RF</text>
<text x="762" y="909" font-size="23.8" font-weight="bold" fill="#000">g.</text>
<text x="792" y="909" font-size="23.8" textLength="50.1" lengthAdjust="spacingAndGlyphs" fill="#000">SSA-</text>
<text x="757.3" y="932.6" font-size="23.8" textLength="90" lengthAdjust="spacingAndGlyphs" fill="#000">XGBoost</text>
<text x="232.2" y="1291.2" font-size="23.8" font-weight="bold" fill="#000">h.</text>
<text x="264.8" y="1291.2" font-size="23.8" textLength="316.5" lengthAdjust="spacingAndGlyphs" fill="#000">Threshold analysis of the models</text>
</svg>
</body></html>
